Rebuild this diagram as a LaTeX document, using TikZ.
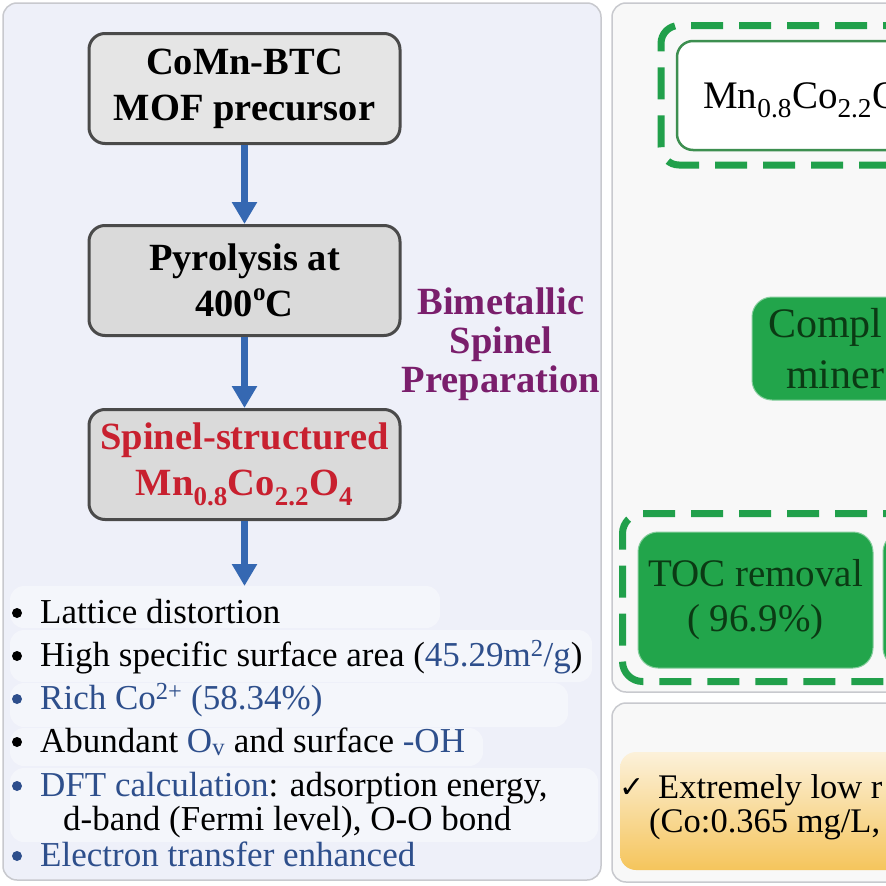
\documentclass[tikz,border=0pt]{standalone}
\usepackage{fontspec}
\setmainfont{Liberation Serif}
\newfontfamily\symfont{DejaVu Sans}
\usetikzlibrary{arrows.meta, positioning, calc}

\definecolor{panelbg}{HTML}{EEF0F9}
\definecolor{panelline}{HTML}{C8C9CE}
\definecolor{rightbg}{HTML}{F8F8F8}
\definecolor{boxgray}{HTML}{DADADA}
\definecolor{boxline}{HTML}{4A4A4A}
\definecolor{flowblue}{HTML}{3568B2}
\definecolor{textblue}{HTML}{2E4F8C}
\definecolor{spinelred}{HTML}{C8202F}
\definecolor{prepurple}{HTML}{7A1E6C}
\definecolor{leafgreen}{HTML}{22A54B}
\definecolor{dashgreen}{HTML}{21A04B}
\definecolor{darkgreen}{HTML}{0B3A14}
\definecolor{rimgreen}{HTML}{3D8F50}
\definecolor{paleorange}{HTML}{FCF1DA}
\definecolor{deeporange}{HTML}{F5C55C}

\newcommand{\lo}[1]{\textsubscript{#1}}
\newcommand{\hi}[1]{\textsuperscript{#1}}
\newcommand{\dego}{\raisebox{0.42em}{\fontsize{25}{25}\selectfont o}}

\begin{document}
\begin{tikzpicture}[x=1pt, y=-1pt,
    stepbox/.style={draw=boxline, line width=3pt, rounded corners=16pt, fill=boxgray,
        minimum width=311pt, minimum height=110pt, align=center,
        font=\fontsize{38.5}{46}\selectfont\bfseries},
    flow/.style={draw=flowblue, line width=7pt, -{Triangle[width=24pt,length=22pt]}},
    item/.style={anchor=base west, inner sep=0pt, font=\fontsize{35}{35}\selectfont},
    dot/.style={circle, inner sep=0pt, minimum size=10pt},
    strip/.style={fill=white, fill opacity=.4, rounded corners=14pt},
    greenbox/.style={fill=leafgreen, draw=leafgreen!55!white, line width=1pt, rounded corners=20pt},
    greentext/.style={anchor=base west, inner sep=0pt, text=darkgreen, font=\fontsize{42}{50}\selectfont},
    groupline/.style={draw=dashgreen, line width=7pt, dash pattern=on 32pt off 16pt, dash phase=3pt}
]
    \useasboundingbox (0,0) rectangle (886,886);
    \clip (0,0) rectangle (886,886);
    \fill[white] (0,0) rectangle (886,886);

    % panels
    \draw[panelline, line width=1.5pt, fill=panelbg, rounded corners=14pt] (3,3) rectangle (601,880);
    \draw[panelline, line width=1.5pt, fill=rightbg, rounded corners=14pt] (612,3) rectangle (980,692);
    \draw[panelline, line width=1.5pt, fill=rightbg, rounded corners=14pt] (612,703) rectangle (980,882);

    % preparation route
    \node[stepbox, fill=boxgray!70!white] (prec) at (244.5,88.5) {CoMn-BTC\\MOF precursor};
    \node[stepbox] (pyro) at (244.5,280.5) {Pyrolysis at\\400\dego C};
    \node[stepbox, text=spinelred] (spinel) at (244.5,464.5)
        {Spinel-structured\\Mn\lo{0.8}Co\lo{2.2}O\lo{4}};
    \coordinate (listtop) at (244.5,586);

    \draw[flow] (prec) -- (pyro);
    \draw[flow] (pyro) -- (spinel);
    \draw[flow] (spinel) -- (listtop);

    \node[align=center, text=prepurple, font=\fontsize{38.5}{39}\selectfont\bfseries]
        (route) at (501,344) {Bimetallic\\Spinel\\Preparation};

    % properties
    \fill[strip] (10,586) rectangle (440,628);
    \fill[strip] (10,630) rectangle (592,682);
    \fill[strip] (10,683) rectangle (568,727);
    \fill[strip] (10,728) rectangle (483,766);
    \fill[strip] (10,768) rectangle (598,842);

    \node[item] (lattice) at (40,623) {Lattice distortion};
    \node[item] (area) at (40,666) {High specific surface area (\textcolor{textblue}{45.29m\hi{2}/g})};
    \node[item, text=textblue] (cobalt) at (40,709) {Rich Co\hi{2+} (58.34\%)};
    \node[item] (vacancy) at (40,752) {Abundant \textcolor{textblue}{O\lo{v}} and surface \textcolor{textblue}{-OH}};
    \node[item] (dft) at (40,796) {\textcolor{textblue}{DFT calculation}: adsorption energy,};
    \node[item] (dftb) at (63,830) {d-band (Fermi level), O-O bond};
    \node[item, text=textblue] (electron) at (40,866) {Electron transfer enhanced};

    \foreach \n/\c in {lattice/black, area/black, cobalt/textblue, vacancy/black, dft/textblue, electron/textblue}
        \node[dot, fill=\c] at ($(\n.base west)+(-23,-10)$) {};

    % catalyst and mineralization
    \draw[groupline, rounded corners=18pt] (960,25.5) -- (661,25.5) -- (661,165) -- (960,165);
    \draw[rimgreen, line width=2.5pt, fill=white, rounded corners=16pt] (677,41) rectangle (980,150);
    \node[anchor=base west, inner sep=0pt, font=\fontsize{39}{39}\selectfont]
        (catalyst) at (703,108) {Mn\lo{0.8}Co\lo{2.2}O};

    \draw[greenbox] (752,297) rectangle (1000,400);
    \node[greentext] (minA) at (768,337) {Compl};
    \node[greentext] (minB) at (786,388) {miner};

    \draw[groupline, rounded corners=20pt] (960,513.5) -- (622.5,513.5) -- (622.5,681.5) -- (960,681.5);
    \node[greenbox, minimum width=235pt, minimum height=136pt, align=center, text=darkgreen,
        font=\fontsize{39}{49}\selectfont] (toc) at (755.5,600) {\raisebox{-4pt}{TOC removal}\\( 96.9\%)};
    \draw[greenbox] (883,532) rectangle (1100,668);

    % leaching
    \shade[top color=paleorange, bottom color=deeporange, rounded corners=16pt] (620,752) rectangle (1000,870);
    \node[anchor=base west, inner sep=0pt, font=\symfont\fontsize{30}{30}\selectfont] (tick) at (619,797) {✓};
    \node[anchor=base west, inner sep=0pt, font=\fontsize{34.5}{35}\selectfont] (leachA) at (658,798) {Extremely low r};
    \node[anchor=base west, inner sep=0pt, font=\fontsize{34.5}{35}\selectfont] (leachB) at (649,832) {(Co:0.365 mg/L,};
\end{tikzpicture}
\end{document}
